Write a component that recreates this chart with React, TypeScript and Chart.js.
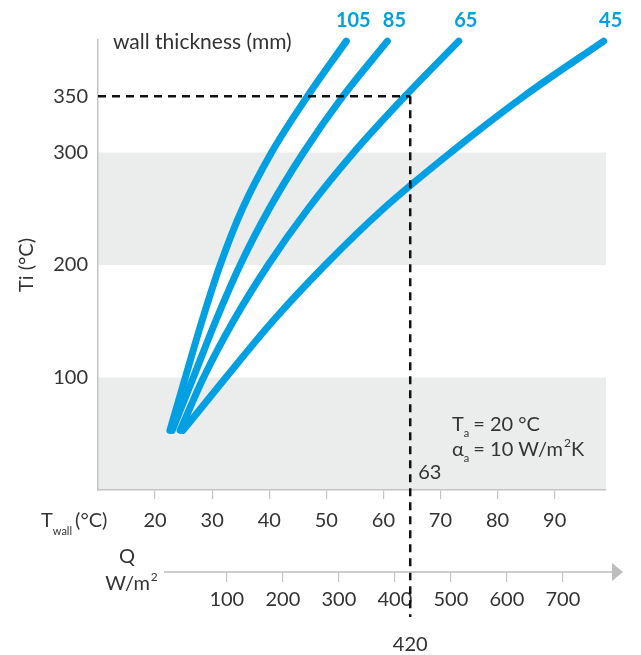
import React, { useEffect, useRef } from "react";
import { Chart, registerables } from "chart.js";

Chart.register(...registerables);

// ---- data ----
const thicknessLabels = ["105", "85", "65", "45"];
const innerTemp = [53, 100, 150, 200, 250, 300, 350, 399];
const wallTemp105 = [22.6, 25.3, 28.2, 31.4, 35.3, 40.4, 46.7, 53.5];
const wallTemp85 = [23.0, 26.7, 30.6, 34.9, 40.0, 46.0, 52.9, 60.7];
const wallTemp65 = [24.4, 28.5, 33.7, 39.8, 46.8, 54.8, 63.8, 73.2];
const wallTemp45 = [24.9, 32.4, 40.6, 49.8, 60.0, 71.8, 84.6, 98.6];
const wallSeries = [wallTemp105, wallTemp85, wallTemp65, wallTemp45];

const wallTicks = [20, 30, 40, 50, 60, 70, 80, 90];
const tiTicks = [100, 200, 300, 350];
const qTicks = [100, 200, 300, 400, 500, 600, 700];
const bandRanges = [
  [0, 100],
  [200, 300],
];
const readTi = 350;
const readWallT = 64.7;
const readWallLabel = "63";
const readQLabel = "420";

const FONT = "Lato";
const TEXT = "#333333";
const AXIS = "#c4c4c4";
const BLUE = "#00a0e3";
const BAND = "#ebecec";

const decor = {
  id: "decor",
  beforeDraw(chart: any) {
    const { ctx, chartArea } = chart;
    const y = chart.scales.y;
    ctx.save();
    ctx.fillStyle = BAND;
    for (const [a, b] of bandRanges) {
      const y1 = y.getPixelForValue(b);
      const y2 = y.getPixelForValue(a);
      ctx.fillRect(chartArea.left, y1, chartArea.right - chartArea.left, y2 - y1);
    }
    ctx.restore();
  },
  afterDatasetsDraw(chart: any) {
    const { ctx, chartArea } = chart;
    const x = chart.scales.x;
    const y = chart.scales.y;
    const px = x.getPixelForValue(readWallT);
    const py = y.getPixelForValue(readTi);
    ctx.save();
    ctx.strokeStyle = "#111";
    ctx.lineWidth = 2.5;
    ctx.setLineDash([8, 6]);
    ctx.beginPath();
    ctx.moveTo(chartArea.left, py);
    ctx.lineTo(px, py);
    ctx.stroke();
    ctx.beginPath();
    ctx.moveTo(px, py);
    ctx.lineTo(px, chart.scales.q.top + 45);
    ctx.stroke();
    ctx.restore();
  },
  afterDraw(chart: any) {
    const { ctx, chartArea } = chart;
    const x = chart.scales.x;
    const q = chart.scales.q;
    ctx.save();
    ctx.fillStyle = TEXT;
    ctx.textBaseline = "middle";
    const f = (s: number, w = "normal") => `${w} ${s}px ${FONT}`;

    // header
    ctx.font = f(21);
    ctx.textAlign = "left";
    ctx.fillText("wall thickness (mm)", chartArea.left + 15, 42);

    // curve labels
    ctx.font = f(20, "bold");
    ctx.fillStyle = BLUE;
    ctx.textAlign = "center";
    wallSeries.forEach((s, i) => {
      const ex = x.getPixelForValue(s[s.length - 1]);
      ctx.fillText(thicknessLabels[i], ex + 7, 21);
    });
    ctx.fillStyle = TEXT;

    // y title
    ctx.save();
    ctx.translate(27, 265);
    ctx.rotate(-Math.PI / 2);
    ctx.font = f(20);
    ctx.textAlign = "center";
    ctx.fillText("Ti (°C)", 0, 0);
    ctx.restore();

    // T_wall label
    const ty = 521;
    ctx.textAlign = "left";
    ctx.font = f(20);
    let cx = 41;
    ctx.fillText("T", cx, ty);
    cx += ctx.measureText("T").width;
    ctx.font = f(11);
    ctx.fillText("wall", cx, ty + 10);
    cx += ctx.measureText("wall").width + 3;
    ctx.font = f(20);
    ctx.fillText("(°C)", cx, ty);

    // Q axis label
    ctx.textAlign = "center";
    ctx.fillText("Q", 127, 557);
    ctx.textAlign = "left";
    const wm = "W/m";
    const wmW = ctx.measureText(wm).width;
    ctx.font = f(12);
    const supW = ctx.measureText("2").width;
    const sx = 131 - (wmW + supW) / 2;
    ctx.font = f(20);
    ctx.fillText(wm, sx, 584);
    ctx.font = f(12);
    ctx.fillText("2", sx + wmW + 1, 577);

    // Q axis line + arrow
    const qy = q.top;
    ctx.strokeStyle = "#bdbdbd";
    ctx.lineWidth = 1.5;
    ctx.beginPath();
    ctx.moveTo(chartArea.left + 66, qy);
    ctx.lineTo(chartArea.right + 8, qy);
    ctx.stroke();
    ctx.fillStyle = "#bdbdbd";
    ctx.beginPath();
    ctx.moveTo(chartArea.right + 6, qy - 9);
    ctx.lineTo(chartArea.right + 17, qy);
    ctx.lineTo(chartArea.right + 6, qy + 9);
    ctx.closePath();
    ctx.fill();
    ctx.fillStyle = TEXT;

    // conditions
    const ax = 452;
    ctx.font = f(20);
    ctx.fillText("T", ax, 425);
    let w = ctx.measureText("T").width;
    ctx.font = f(11);
    ctx.fillText("a", ax + w, 433);
    w += ctx.measureText("a").width + 4;
    ctx.font = f(20);
    ctx.fillText("= 20 °C", ax + w, 425);

    ctx.fillText("α", ax, 450);
    w = ctx.measureText("α").width;
    ctx.font = f(11);
    ctx.fillText("a", ax + w, 458);
    w += ctx.measureText("a").width + 4;
    ctx.font = f(20);
    const t2 = "= 10 W/m";
    ctx.fillText(t2, ax + w, 450);
    w += ctx.measureText(t2).width;
    ctx.font = f(12);
    ctx.fillText("2", ax + w + 1, 443);
    w += ctx.measureText("2").width + 1;
    ctx.font = f(20);
    ctx.fillText("K", ax + w, 450);

    // read-off labels
    const px = x.getPixelForValue(readWallT);
    ctx.fillText(readWallLabel, px + 8, 473);
    ctx.textAlign = "center";
    ctx.fillText(readQLabel, px, 645);

    ctx.restore();
  },
};

export default function App() {
  const ref = useRef<HTMLCanvasElement>(null);
  useEffect(() => {
    document.body.style.margin = "0";
    const canvas = ref.current!;
    const chart = new Chart(canvas, {
      type: "line",
      data: {
        datasets: wallSeries.map((s, i) => ({
          label: thicknessLabels[i],
          data: s.map((t, k) => ({ x: t, y: innerTemp[k] })),
          borderColor: BLUE,
          borderWidth: 7,
          borderCapStyle: "round",
          borderJoinStyle: "round",
          pointRadius: 0,
          cubicInterpolationMode: "monotone",
          fill: false,
          clip: false,
        })),
      } as any,
      options: {
        responsive: false,
        animation: false,
        layout: { padding: { left: 0, right: 35, top: 40, bottom: 0 } },
        plugins: { legend: { display: false }, tooltip: { enabled: false } },
        scales: {
          x: {
            type: "linear",
            position: "bottom",
            min: 10,
            max: 99,
            weight: 0,
            afterBuildTicks: (s: any) => {
              s.ticks = wallTicks.map((v) => ({ value: v }));
            },
            afterFit: (s: any) => {
              s.height = 82;
            },
            grid: { drawOnChartArea: false, drawTicks: true, tickLength: 9, color: AXIS, lineWidth: 1.2 },
            border: { display: true, color: AXIS, width: 1.5 },
            ticks: { font: { family: FONT, size: 20 }, color: TEXT, padding: 10, maxRotation: 0, autoSkip: false },
          },
          q: {
            type: "linear",
            axis: "x",
            position: "bottom",
            min: -130,
            max: 777,
            weight: 1,
            afterBuildTicks: (s: any) => {
              s.ticks = qTicks.map((v) => ({ value: v }));
            },
            afterFit: (s: any) => {
              s.height = 83;
            },
            grid: { drawOnChartArea: false, drawTicks: true, tickLength: 10, color: AXIS, lineWidth: 1.2 },
            border: { display: false },
            ticks: { font: { family: FONT, size: 20 }, color: TEXT, padding: 6, maxRotation: 0, autoSkip: false },
          },
          y: {
            type: "linear",
            min: 0,
            max: 400,
            afterBuildTicks: (s: any) => {
              s.ticks = tiTicks.map((v) => ({ value: v }));
            },
            afterFit: (s: any) => {
              s.width = 98;
            },
            grid: { drawOnChartArea: false, drawTicks: false },
            border: { display: true, color: AXIS, width: 1.5 },
            ticks: { font: { family: FONT, size: 20 }, color: TEXT, padding: 10, autoSkip: false },
          },
        },
      } as any,
      plugins: [decor],
    });
    return () => chart.destroy();
  }, []);
  return (
    <div style={{ width: 641, height: 655 }}>
      <canvas ref={ref} width={641} height={655} />
    </div>
  );
}
